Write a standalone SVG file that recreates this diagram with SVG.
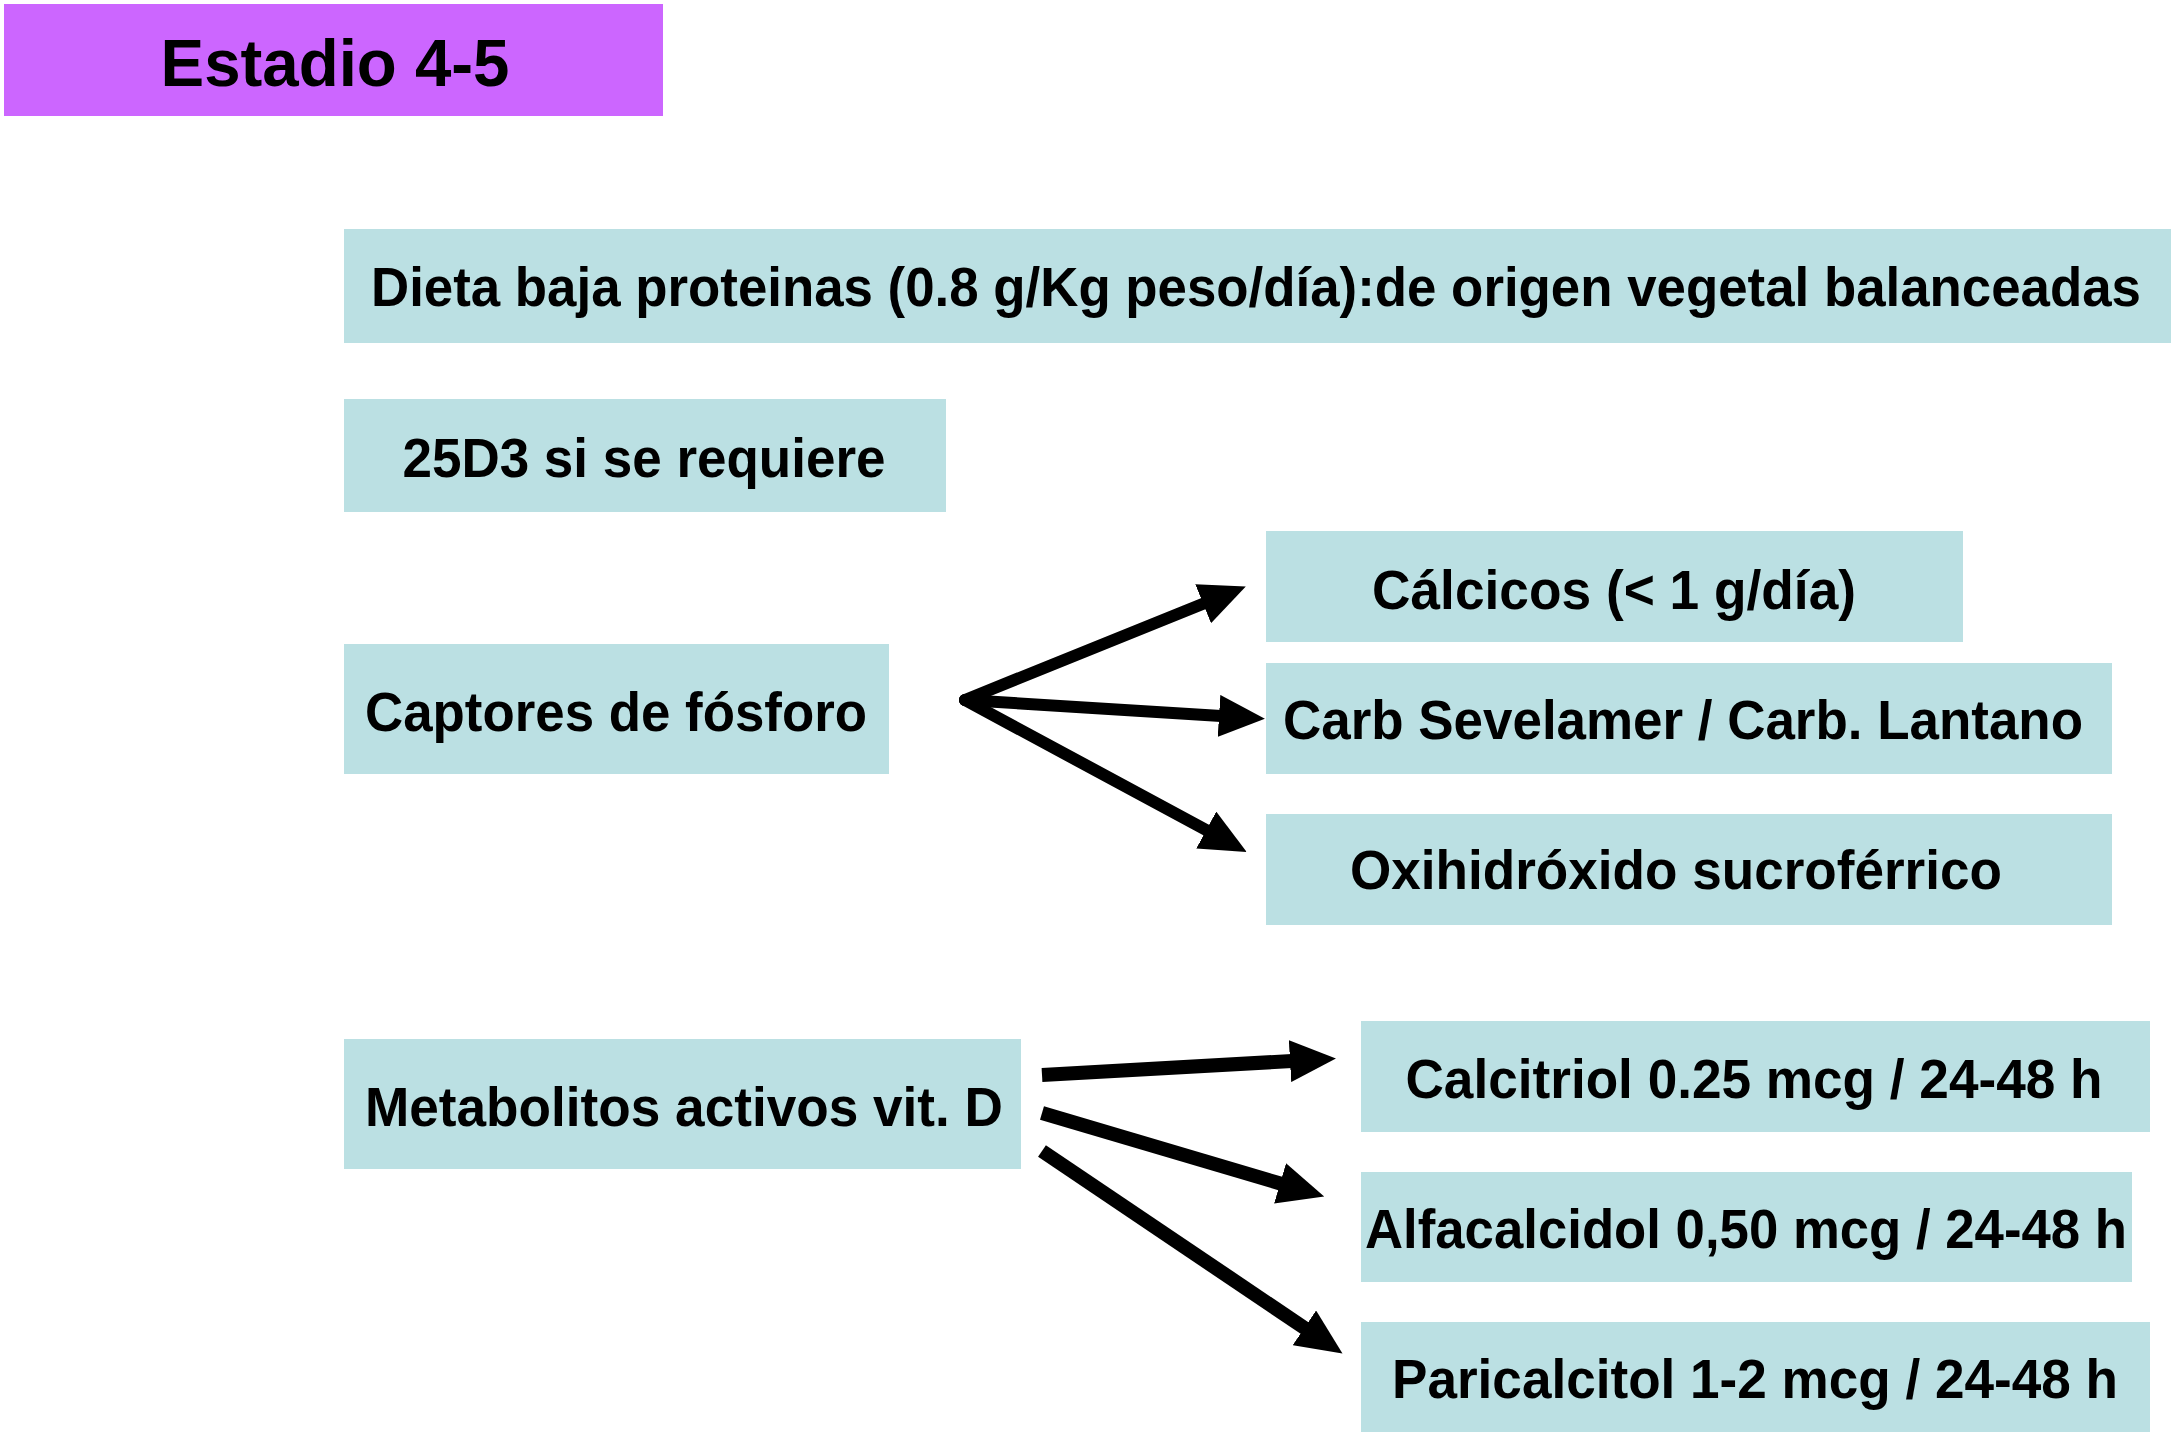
<svg xmlns="http://www.w3.org/2000/svg" width="2175" height="1439" viewBox="0 0 2175 1439">
<style>
.box{fill:#BBE0E3;}
.title{fill:#CC66FF;}
text{font-family:"Liberation Sans",Arial,sans-serif;font-weight:bold;fill:#000;text-anchor:middle;}
.t{font-size:56px;}
.tt{font-size:66px;}
.a1{stroke:#000;stroke-width:12;fill:none;stroke-linecap:round;marker-end:url(#ah);}
.a2{stroke:#000;stroke-width:14;fill:none;stroke-linecap:butt;marker-end:url(#ah);}
</style>
<defs>
<marker id="ah" markerUnits="userSpaceOnUse" markerWidth="46" markerHeight="42" refX="2" refY="21" orient="auto" viewBox="0 0 46 42">
<path d="M0,0 L46,21 L0,42 z" fill="#000"/>
</marker>
</defs>
<rect width="2175" height="1439" fill="#fff"/>
<g id="estadio"><rect class="title" x="4" y="4" width="659" height="112"/><text class="tt" x="335" y="86" textLength="349" lengthAdjust="spacingAndGlyphs">Estadio 4-5</text></g>
<g id="dieta"><rect class="box" x="344" y="229" width="1827" height="114"/><text class="t" x="1256" y="306" textLength="1770" lengthAdjust="spacingAndGlyphs">Dieta baja proteinas (0.8 g/Kg peso/día):de origen vegetal balanceadas</text></g>
<g id="d3"><rect class="box" x="344" y="399" width="602" height="113"/><text class="t" x="644" y="477" textLength="483" lengthAdjust="spacingAndGlyphs">25D3 si se requiere</text></g>
<g id="captores"><rect class="box" x="344" y="644" width="545" height="130"/><text class="t" x="616" y="731" textLength="502" lengthAdjust="spacingAndGlyphs">Captores de fósforo</text></g>
<g id="calcicos"><rect class="box" x="1266" y="531" width="697" height="111"/><text class="t" x="1614" y="609" textLength="484" lengthAdjust="spacingAndGlyphs">Cálcicos (&lt; 1 g/día)</text></g>
<g id="sevelamer"><rect class="box" x="1266" y="663" width="846" height="111"/><text class="t" x="1683" y="739" textLength="800" lengthAdjust="spacingAndGlyphs">Carb Sevelamer / Carb. Lantano</text></g>
<g id="oxi"><rect class="box" x="1266" y="814" width="846" height="111"/><text class="t" x="1676" y="889" textLength="652" lengthAdjust="spacingAndGlyphs">Oxihidróxido sucroférrico</text></g>
<g id="metabolitos"><rect class="box" x="344" y="1039" width="677" height="130"/><text class="t" x="684" y="1126" textLength="638" lengthAdjust="spacingAndGlyphs">Metabolitos activos vit. D</text></g>
<g id="calcitriol"><rect class="box" x="1361" y="1021" width="789" height="111"/><text class="t" x="1754" y="1098" textLength="697" lengthAdjust="spacingAndGlyphs">Calcitriol 0.25 mcg / 24-48 h</text></g>
<g id="alfacalcidol"><rect class="box" x="1361" y="1172" width="771" height="110"/><text class="t" x="1746" y="1248" textLength="762" lengthAdjust="spacingAndGlyphs">Alfacalcidol 0,50 mcg / 24-48 h</text></g>
<g id="paricalcitol"><rect class="box" x="1361" y="1322" width="789" height="110"/><text class="t" x="1755" y="1398" textLength="726" lengthAdjust="spacingAndGlyphs">Paricalcitol 1-2 mcg / 24-48 h</text></g>
<g id="connectors">
<line class="a1" x1="965" y1="700" x2="1205" y2="603"/>
<line class="a1" x1="965" y1="700" x2="1221" y2="716"/>
<line class="a1" x1="965" y1="700" x2="1208" y2="831"/>
<line class="a2" x1="1042" y1="1075" x2="1292" y2="1061"/>
<line class="a2" x1="1042" y1="1113" x2="1282" y2="1184"/>
<line class="a2" x1="1042" y1="1151" x2="1306" y2="1329"/>
</g>
</svg>
